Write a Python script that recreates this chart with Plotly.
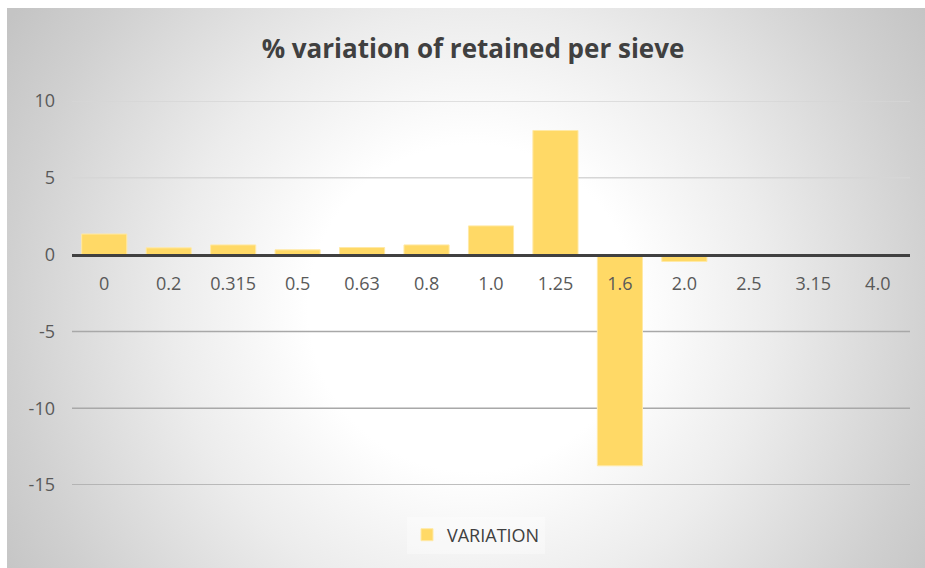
import base64
import plotly.graph_objects as go

categories = ["0", "0.2", "0.315", "0.5", "0.63", "0.8", "1.0", "1.25", "1.6", "2.0", "2.5", "3.15", "4.0"]
variation = [1.34, 0.44, 0.63, 0.31, 0.46, 0.63, 1.87, 8.08, -13.75, -0.45, 0.0, 0.0, 0.0]
y_ticks = [10, 5, 0, -5, -10, -15]
y_tick_labels = ["10", "5", "0", "-5", "-10", "-15"]
series_name = "VARIATION"
title_text = "% variation of retained per sieve"

W, H = 925, 568
L, R, T, B = 72, 15, 101, 83
pw, ph = W - L - R, H - T - B

# radial gradient background (chart area from x=7,y=8 to page edge)
cw, ch = W - 7, H - 8
svg = f'''<svg xmlns="http://www.w3.org/2000/svg" width="{cw}" height="{ch}" viewBox="0 0 {cw} {ch}">
<defs><radialGradient id="g" gradientUnits="userSpaceOnUse" cx="465" cy="300" r="545">
<stop offset="0" stop-color="#ffffff"/>
<stop offset="0.3" stop-color="#ffffff"/>
<stop offset="0.55" stop-color="#ececec"/>
<stop offset="0.85" stop-color="#d0d0d0"/>
<stop offset="1" stop-color="#c4c4c4"/>
</radialGradient></defs>
<rect x="0" y="0" width="{cw}" height="{ch}" fill="url(#g)"/></svg>'''
src = "data:image/svg+xml;base64," + base64.b64encode(svg.encode()).decode()

def px_x(p):
    return (p - L) / pw

def px_y(p):
    return (H - B - p) / ph

fig = go.Figure()
fig.add_trace(go.Bar(
    x=categories, y=variation, name=series_name,
    marker=dict(color="#FFD966", line=dict(color="#FFE9A6", width=1)),
    showlegend=True,
))

for t in y_ticks:
    if t == 0:
        continue
    fig.add_shape(type="line", xref="paper", yref="y", x0=0, x1=1, y0=t, y1=t,
                  line=dict(color="#d6d6d6" if t > 0 else "#a8a8a8", width=1.5),
                  layer="below")

fig.add_layout_image(dict(
    source=src, xref="paper", yref="paper",
    x=px_x(7), y=px_y(8), sizex=cw / pw, sizey=ch / ph,
    xanchor="left", yanchor="top", sizing="stretch", layer="below",
))

fig.update_layout(
    width=W, height=H,
    margin=dict(l=L, r=R, t=T, b=B, pad=0),
    paper_bgcolor="white",
    plot_bgcolor="rgba(0,0,0,0)",
    bargap=0.3,
    font=dict(family="Open Sans", color="#595959", size=18),
    title=dict(text=title_text, x=px_x(473), xref="paper", xanchor="center",
               y=1 - 49 / H, yref="container", yanchor="middle",
               font=dict(family="Open Sans", size=26, color="#404040", weight="bold")),
    legend=dict(orientation="h", x=px_x(476), xanchor="center", y=px_y(535), yanchor="middle",
                bgcolor="rgba(255,255,255,0.35)", font=dict(size=18, color="#404040"),
                itemwidth=30),
    xaxis=dict(
        type="category", anchor="free", position=15 / 25,
        showline=True, linewidth=3, linecolor="#404040",
        showgrid=False, ticks="", ticklabelstandoff=12,
        tickfont=dict(size=18, color="#595959"),
    ),
    yaxis=dict(
        range=[-15, 10], tickvals=y_ticks, ticktext=y_tick_labels,
        showgrid=False, zeroline=False,
        ticks="", ticklabelstandoff=16, tickfont=dict(size=18, color="#595959"),
    ),
)

fig.write_html("out.html")
